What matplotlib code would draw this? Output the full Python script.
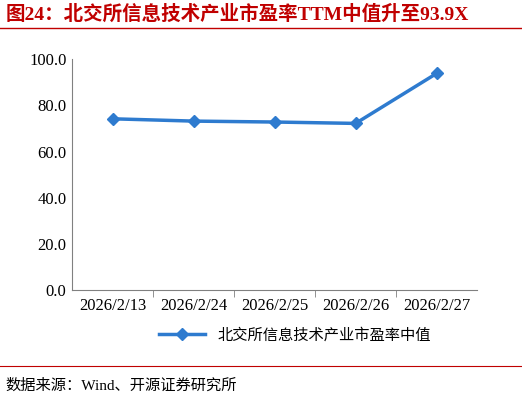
import matplotlib
matplotlib.use("Agg")
import matplotlib.pyplot as plt
from matplotlib.lines import Line2D

dates = ["2026/2/13", "2026/2/24", "2026/2/25", "2026/2/26", "2026/2/27"]
pe = [74.2, 73.2, 72.8, 72.2, 93.9]
yticks = [0, 20, 40, 60, 80, 100]

fam = ['Liberation Serif', 'Noto Sans CJK SC']
plt.rcParams['font.family'] = fam
fig = plt.figure(figsize=(5.22, 4.04), dpi=100)
ax = fig.add_axes([0.138, 0.283, 0.776, 0.57])
color = '#2E7BCF'
x = range(len(dates))
ax.plot(x, pe, color=color, lw=2.5, marker='D', ms=6, label='北交所信息技术产业市盈率中值')
ax.set_ylim(0, 100)
ax.set_xlim(-0.5, len(dates) - 0.5)
ax.set_yticks(yticks)
ax.set_yticklabels([f"{v:.1f}" for v in yticks], fontsize=12)
ax.set_xticks(list(x))
ax.set_xticklabels(dates, fontsize=12)
for s in ['top', 'right']:
    ax.spines[s].set_visible(False)
for s in ['left', 'bottom']:
    ax.spines[s].set_color('#808080')
ax.tick_params(axis='x', length=0, pad=6)
ax.tick_params(axis='y', length=0, pad=4)
ax.set_xticks([i + 0.5 for i in range(len(dates) - 1)], minor=True)
ax.tick_params(axis='x', which='minor', length=5, color='#808080', direction='out')

ax.legend(loc='upper center', bbox_to_anchor=(0.55, -0.1), frameon=False,
          prop={'family': 'Noto Sans CJK SC', 'size': 11}, handlelength=3)

fig.text(0.01, 0.965, '图24：北交所信息技术产业市盈率TTM中值升至93.9X', color='#C00000',
         fontsize=14, fontweight='bold', va='center', family=['Liberation Serif', 'Noto Sans CJK SC'])
fig.add_artist(Line2D([0.0, 1.0], [0.93, 0.93], color='#C00000', lw=1))
fig.add_artist(Line2D([0.0, 1.0], [0.095, 0.095], color='#C00000', lw=0.8))
fig.text(0.01, 0.045, '数据来源：Wind、开源证券研究所', fontsize=11, va='center',
         family=['Liberation Serif', 'Noto Sans CJK SC'])
fig.savefig('out.png', dpi=100)
